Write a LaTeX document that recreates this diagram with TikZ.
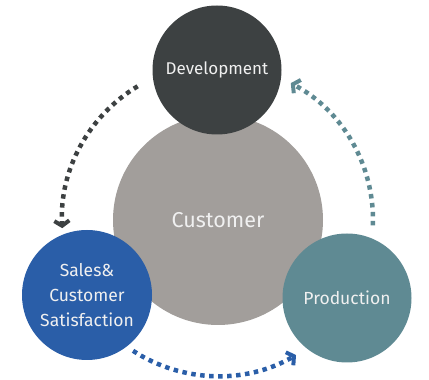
\documentclass[tikz,border=0pt]{standalone}
\usepackage{fontspec}
\setmainfont{Fira Sans}
\usetikzlibrary{arrows.meta}
\definecolor{devgray}{HTML}{3D4142}
\definecolor{custgray}{HTML}{A29E9B}
\definecolor{salesblue}{HTML}{2A5EA8}
\definecolor{prodteal}{HTML}{5F8A93}
\begin{document}
\begin{tikzpicture}
  [x=1pt,y=1pt,every node/.style={circle,text=white!94!black,align=center,inner sep=0pt}]
 \tikzset{CycleArrow/.style={line width=4.5pt,dash pattern=on 4.5pt off 4.5pt,
   -{Straight Barb[length=5pt,width=15pt,line width=4pt,line cap=butt,line join=miter]}}}
 \useasboundingbox (0,0) rectangle (429,380);
  \node[fill=custgray,minimum size=210pt,font=\fontsize{21.5}{25}\selectfont] (cust) at (218,160) {Customer};
 \node[fill=devgray,minimum size=129pt,font=\fontsize{17}{20}\selectfont] (dev) at (217,310) {Development};
  \node[fill=salesblue,minimum size=130pt,font=\fontsize{17.5}{25}\selectfont] (sales) at (87,85) {Sales\&\\Customer\\Satisfaction};
  \node[fill=prodteal,minimum size=129pt,font=\fontsize{17.5}{20}\selectfont] (prod) at (347,82) {Production};

 % arrows round the customer
 \draw[CycleArrow,devgray] (cust.center) ++(121:156) arc[start angle=121,end angle=183,radius=156];
 \draw[CycleArrow,prodteal] (cust.center) ++(-2:155) arc[start angle=-2,end angle=62,radius=155];
 \draw[CycleArrow,salesblue] (cust.center) ++(237:156) arc[start angle=237,end angle=300,radius=156];

\end{tikzpicture}
\end{document}
